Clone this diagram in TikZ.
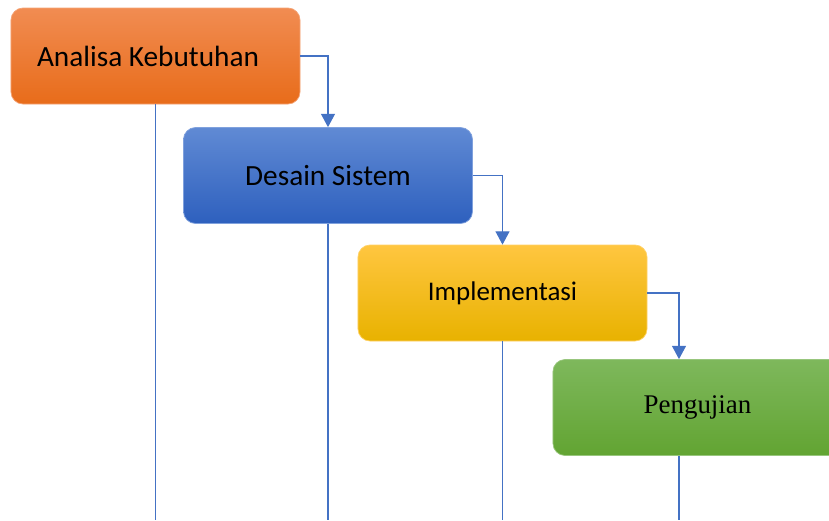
\documentclass[tikz,border=0pt]{standalone}
\usepackage{fontspec}
\setmainfont{Carlito}
\newfontfamily\timesfont{Liberation Serif}
\usetikzlibrary{positioning,arrows.meta}
\definecolor{corangetop}{RGB}{241,140,82}
\definecolor{corangebot}{RGB}{232,108,26}
\definecolor{cbluetop}{RGB}{96,138,212}
\definecolor{cbluebot}{RGB}{46,96,190}
\definecolor{cyellowtop}{RGB}{255,198,64}
\definecolor{cyellowbot}{RGB}{232,178,0}
\definecolor{cgreentop}{RGB}{126,184,92}
\definecolor{cgreenbot}{RGB}{98,164,50}
\definecolor{cline}{RGB}{68,114,196}

\begin{document}
\begin{tikzpicture}[
    x=0.03cm, y=-0.03cm,
    phase/.style={draw, rounded corners=0.36cm, minimum width=8.67cm, minimum height=2.88cm,
                  line width=0.6pt, font=\fontsize{25}{30}\selectfont, align=center},
    flow/.style={-{Triangle[width=0.42cm,length=0.4cm]}, line width=1pt, cline},
    drop/.style={line width=1pt, cline}
  ]
  \useasboundingbox (0,0) rectangle (829,520);
  \clip (0,0) rectangle (829,520);
  \node[phase, top color=corangetop, bottom color=corangebot, draw=corangetop!80!white] (ana) at (155.5,56) {Analisa Kebutuhan\kern0.45cm};
  \node[phase, top color=cbluetop, bottom color=cbluebot, draw=cbluetop!80!white] (des) at (328,175.5) {Desain Sistem};
  \node[phase, top color=cyellowtop, bottom color=cyellowbot, draw=cyellowtop!80!white,
        font=\fontsize{23}{28}\selectfont] (imp) at (502.5,293) {Implementasi};
  \node[phase, top color=cgreentop, bottom color=cgreenbot, draw=cgreentop!80!white,
        font=\timesfont\fontsize{23}{28}\selectfont] (peng) at (697.5,407.5) {Pengujian};

  \coordinate (pengx) at (679,0);
  \coordinate (bottom) at (0,520);

  \draw[flow] (ana.east) -| (des.north);
  \draw[flow] (des.east) -| (imp.north);
  \draw[flow] (imp.east) -| (peng.north -| pengx);

  \draw[drop] (ana.south) -- (ana.south |- bottom);
  \draw[drop] (des.south) -- (des.south |- bottom);
  \draw[drop] (imp.south) -- (imp.south |- bottom);
  \draw[drop] (peng.south -| pengx) -- (pengx |- bottom);
\end{tikzpicture}
\end{document}
